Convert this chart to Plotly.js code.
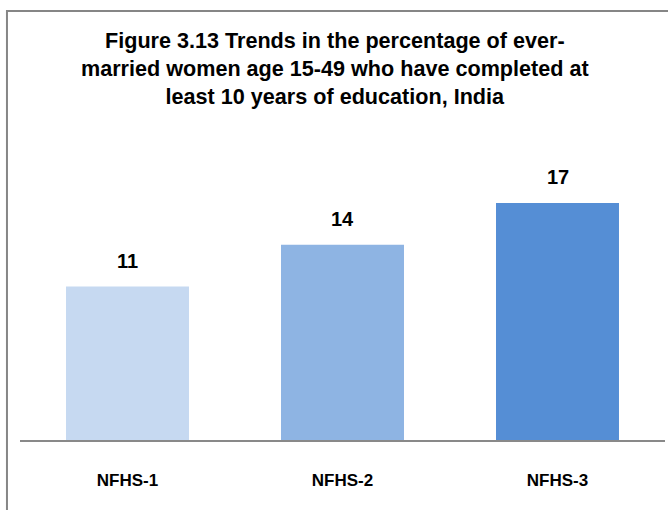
<!DOCTYPE html>
<html>
<head>
<meta charset="utf-8">
<script src="https://cdn.plot.ly/plotly-3.0.1.min.js"></script>
<style>
html,body{margin:0;padding:0;background:#fff;}
#chart{width:668px;height:510px;}
</style>
</head>
<body>
<div id="chart"></div>
<script>
const categories = ["NFHS-1", "NFHS-2", "NFHS-3"];
const values = [11, 14, 17];
const barColors = ["#C6D9F1", "#8EB4E3", "#558ED5"];
const titleText = "Figure 3.13 Trends in the percentage of ever-<br>married women age 15-49 who have completed at<br>least 10 years of education, India";

const FONT = "Liberation Sans, Arial, sans-serif";

const trace = {
  type: "bar",
  x: categories,
  y: values,
  marker: {color: barColors},
  hoverinfo: "none"
};

const annotations = categories.map((c, i) => ({
  x: c, y: values[i], xref: "x", yref: "y",
  text: "<b>" + values[i] + "</b>",
  showarrow: false, yshift: 26,
  font: {family: FONT, size: 20, color: "#000"}
}));

annotations.push({
  xref: "paper", yref: "paper", x: 0.488, y: 1.482,
  xanchor: "center", yanchor: "middle", align: "center",
  showarrow: false,
  text: "<b>" + titleText + "</b>",
  font: {family: FONT, size: 21.6, color: "#000"}
});

const layout = {
  width: 668, height: 510,
  margin: {l: 20, r: 3, t: 189, b: 70},
  paper_bgcolor: "#fff", plot_bgcolor: "#fff",
  bargap: 0.428,
  showlegend: false,
  xaxis: {
    showline: true, linecolor: "#898989", linewidth: 2,
    ticks: "", showgrid: false, zeroline: false,
    tickfont: {family: FONT, size: 17, color: "#000", weight: "bold"},
    ticklabelstandoff: 24
  },
  yaxis: {
    range: [0, 18], visible: false, showgrid: false, zeroline: false, fixedrange: true
  },
  annotations: annotations,
  shapes: [{
    type: "rect", xref: "paper", yref: "paper",
    x0: -0.0202, x1: 1.2, y0: -0.6, y1: 1.709,
    line: {color: "#868686", width: 2}, fillcolor: "rgba(0,0,0,0)", layer: "above"
  }]
};

Plotly.newPlot("chart", [trace], layout, {displayModeBar: false, staticPlot: true});
</script>
</body>
</html>
